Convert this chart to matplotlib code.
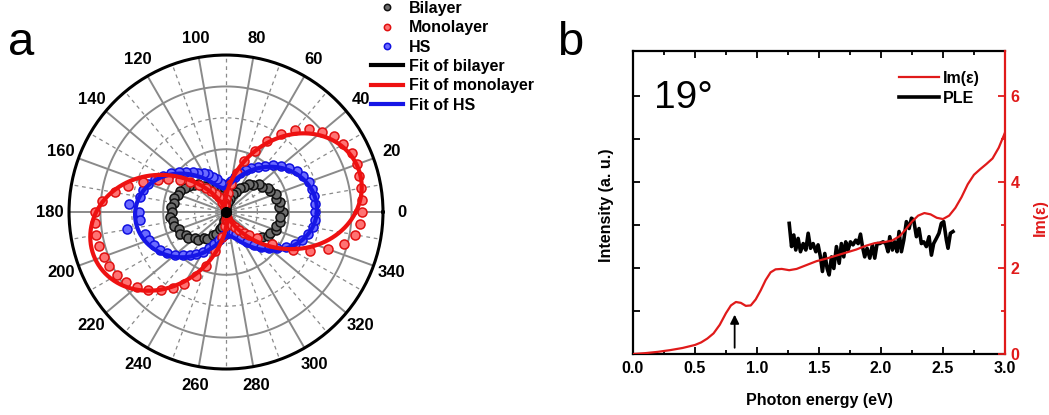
import numpy as np
import matplotlib
matplotlib.use("Agg")
import matplotlib.pyplot as plt

plt.rcParams['font.family'] = ['Liberation Sans', 'DejaVu Sans']
plt.rcParams['font.weight'] = 'bold'
plt.rcParams['axes.labelweight'] = 'bold'

# panel a: polarization-resolved intensity (5 deg steps)
angles = np.arange(0, 360, 5)
bilayer = [1.80, 1.70, 1.76, 1.66, 1.68, 1.55, 1.56, 1.40, 1.38, 1.20, 1.16, 0.98,
           0.90, 0.72, 0.62, 0.44, 0.32, 0.18, 0.10, 0.16, 0.30, 0.46, 0.58, 0.76,
           0.86, 1.02, 1.10, 1.26, 1.32, 1.45, 1.50, 1.60, 1.62, 1.72, 1.68, 1.76,
           1.72, 1.78, 1.70, 1.72, 1.60, 1.62, 1.48, 1.46, 1.30, 1.26, 1.10, 1.04,
           0.86, 0.76, 0.58, 0.48, 0.30, 0.18, 0.10, 0.14, 0.32, 0.42, 0.62, 0.70,
           0.90, 0.96, 1.14, 1.22, 1.36, 1.40, 1.55, 1.56, 1.68, 1.66, 1.76, 1.72]
monolayer = [4.33, 4.35, 4.37, 4.40, 4.44, 4.42, 4.32, 4.20, 3.98, 3.75, 3.40, 3.05,
             2.60, 2.15, 1.72, 1.30, 0.92, 0.62, 0.40, 0.28, 0.22, 0.24, 0.35, 0.52,
             0.65, 0.82, 1.00, 1.22, 1.48, 1.78, 2.12, 2.40, 2.80, 3.22, 3.60, 3.95,
             4.16, 4.18, 4.19, 4.18, 4.15, 4.10, 4.00, 3.88, 3.72, 3.50, 3.24, 2.95,
             2.65, 2.25, 1.82, 1.30, 0.80, 0.45, 0.25, 0.20, 0.22, 0.28, 0.38, 0.45,
             0.55, 0.70, 0.88, 1.05, 1.30, 1.80, 2.45, 2.95, 3.45, 3.90, 4.18, 4.28]
hs = [2.85, 2.86, 2.86, 2.84, 2.80, 2.72, 2.60, 2.45, 2.28, 2.10, 1.92, 1.76,
      1.62, 1.48, 1.32, 1.16, 1.00, 0.88, 0.82, 0.85, 0.95, 1.08, 1.20, 1.32,
      1.43, 1.53, 1.65, 1.80, 1.96, 2.14, 2.32, 2.50, 2.64, 2.73, 2.78, 3.10,
      2.78, 2.76, 3.20, 2.68, 2.60, 2.52, 2.42, 2.28, 2.12, 1.95, 1.80, 1.65,
      1.48, 1.28, 1.08, 0.92, 0.80, 0.74, 0.70, 0.66, 0.64, 0.64, 0.68, 0.78,
      0.95, 1.15, 1.38, 1.58, 1.80, 2.00, 2.22, 2.42, 2.56, 2.70, 2.80, 2.84]
angle_labels = [str(a) for a in range(0, 360, 20)]

# panel b: Im(eps) and PLE vs photon energy
eps_x = [0, 0.1, 0.2, 0.3, 0.4, 0.5, 0.55, 0.6, 0.65, 0.7, 0.75, 0.79, 0.83, 0.87,
         0.91, 0.95, 0.99, 1.03, 1.07, 1.11, 1.15, 1.2, 1.26, 1.32, 1.4, 1.48, 1.56,
         1.64, 1.72, 1.8, 1.88, 1.95, 2.02, 2.09, 2.15, 2.2, 2.25, 2.3, 2.35, 2.4,
         2.45, 2.5, 2.55, 2.6, 2.65, 2.7, 2.75, 2.8, 2.85, 2.9, 2.95, 3.0]
eps_y = [0, 0.02, 0.05, 0.09, 0.14, 0.21, 0.27, 0.36, 0.48, 0.68, 0.95, 1.13, 1.21,
         1.19, 1.12, 1.13, 1.27, 1.48, 1.72, 1.90, 1.97, 1.98, 1.95, 1.98, 2.07, 2.16,
         2.22, 2.29, 2.36, 2.43, 2.52, 2.58, 2.60, 2.64, 2.74, 2.90, 3.08, 3.22, 3.28,
         3.25, 3.17, 3.14, 3.22, 3.40, 3.65, 3.95, 4.17, 4.30, 4.42, 4.55, 4.80, 5.15]
ple_x = [1.260, 1.279, 1.297, 1.313, 1.332, 1.351, 1.373, 1.394, 1.413, 1.432, 1.453,
         1.475, 1.493, 1.512, 1.528, 1.547, 1.566, 1.582, 1.601, 1.620, 1.641, 1.663,
         1.681, 1.700, 1.716, 1.735, 1.754, 1.775, 1.797, 1.816, 1.835, 1.851, 1.869,
         1.888, 1.910, 1.931, 1.950, 1.969, 1.990, 2.017, 2.039, 2.057, 2.071, 2.092,
         2.111, 2.130, 2.146, 2.165, 2.184, 2.205, 2.227, 2.246, 2.264, 2.286, 2.307,
         2.326, 2.345, 2.366, 2.388, 2.407, 2.425, 2.447, 2.468, 2.487, 2.506, 2.528,
         2.541, 2.560, 2.581]
ple_y = [3.04, 2.50, 2.77, 2.42, 2.69, 2.38, 2.57, 2.42, 2.81, 2.46, 2.57,
         2.38, 2.54, 2.26, 1.92, 2.34, 1.99, 1.84, 2.26, 1.99, 2.50, 2.11,
         2.57, 2.26, 2.61, 2.42, 2.61, 2.54, 2.65, 2.57, 2.79, 2.50, 2.26,
         2.46, 2.23, 2.54, 2.23, 2.57, 2.57, 2.61, 2.57, 2.38, 2.73, 2.42,
         2.61, 2.38, 2.85, 2.38, 2.65, 3.08, 2.92, 3.16, 3.12, 2.73, 2.92,
         2.57, 2.61, 2.50, 2.73, 2.30, 2.57, 2.69, 2.81, 3.04, 3.08, 2.65,
         2.46, 2.81, 2.85]
arrow_x = 0.82


def polar_fit(theta_deg, r):
    # least-squares fit with the even harmonics (2θ, 4θ)
    t = np.radians(theta_deg)
    def basis(x):
        return np.column_stack([np.ones_like(x), np.cos(2 * x), np.sin(2 * x),
                                np.cos(4 * x), np.sin(4 * x)])
    c, *_ = np.linalg.lstsq(basis(t), np.asarray(r), rcond=None)
    tt = np.linspace(0, 2 * np.pi, 721)
    return tt, np.clip(basis(tt) @ c, 0, None)


fig = plt.figure(figsize=(10.49, 4.15), dpi=100)

# ---------- a ----------
ax = fig.add_axes([0.0658, 0.1108, 0.2993, 0.7566], projection='polar')
ax.set_ylim(0, 5)
ax.grid(False)
ax.set_xticks([])
ax.set_yticks([])
ax.spines['polar'].set_linewidth(2.2)

gc = '#8a8a8a'
tc = np.linspace(0, 2 * np.pi, 361)
for r in [2, 4]:
    ax.plot(tc, np.full_like(tc, r), color=gc, lw=1.4, zorder=1)
for r in [1, 3]:
    ax.plot(tc, np.full_like(tc, r), color=gc, lw=0.9, ls=(0, (3, 3)), zorder=1)
for a in range(0, 360, 20):
    ax.plot([np.radians(a)] * 2, [0, 5], color=gc, lw=1.4, zorder=1)
    ax.plot([np.radians(a + 10)] * 2, [0, 5], color=gc, lw=0.9, ls=(0, (3, 3)), zorder=1)

th = np.radians(angles)
ms = 6.5
tb, rb = polar_fit(angles, bilayer)
lb, = ax.plot(tb, rb, color='black', lw=3, zorder=2)
pb, = ax.plot(th, bilayer, 'o', ms=ms, mfc='#6e6e6e', mec='#111111', mew=1.1, ls='none', zorder=3)
ph, = ax.plot(th, hs, 'o', ms=ms, mfc='#6b6bff', mec='#1010e0', mew=1.1, ls='none', zorder=3)
pm, = ax.plot(th, monolayer, 'o', ms=ms, mfc='#ff7373', mec='#e01010', mew=1.1, ls='none', zorder=3)
tmo, rmo = polar_fit(angles, monolayer)
th_, rh = polar_fit(angles, hs)
lh, = ax.plot(th_, rh, color='#1616e6', lw=3, zorder=4)
lm, = ax.plot(tmo, rmo, color='#ee1111', lw=3, zorder=5)
ax.plot([0], [0], 'o', color='black', ms=7, zorder=6)

for a, lab in zip(range(0, 360, 20), angle_labels):
    ax.text(np.radians(a), 5.6, lab, ha='center', va='center', fontsize=12,
            fontweight='bold', clip_on=False)

leg = fig.legend([pb, pm, ph, lb, lm, lh],
                 ['Bilayer', 'Monolayer', 'HS', 'Fit of bilayer', 'Fit of monolayer', 'Fit of HS'],
                 loc='upper left', bbox_to_anchor=(371 / 1049, 1 - 1 / 415), frameon=False,
                 fontsize=11.5, handlelength=2.0, handletextpad=0.35, labelspacing=0.27,
                 borderpad=0, borderaxespad=0, markerscale=0.7)

fig.text(0.008, 1 - 55 / 415, 'a', fontsize=34, fontweight='normal')

# ---------- b ----------
bx = fig.add_axes([0.6034, 0.147, 0.3546, 0.730])
bx2 = bx.twinx()
ymax = 7.05
bx.set_xlim(0, 3)
bx.set_ylim(0, ymax)
bx2.set_ylim(0, ymax)

l_eps, = bx2.plot(eps_x, eps_y, color='#e01a1a', lw=1.6)
l_ple, = bx.plot(ple_x, ple_y, color='black', lw=2.6)
bx.annotate('', xy=(arrow_x, 0.98), xytext=(arrow_x, 0.08),
            arrowprops=dict(arrowstyle='-|>', color='black', lw=1.3, mutation_scale=13))

bx.set_xticks(np.arange(0, 3.01, 0.5))
bx.set_xticks(np.arange(0, 3.01, 0.25), minor=True)
bx.set_yticks(range(1, 7))
bx.tick_params(axis='both', which='both', direction='in', top=True, right=False, width=1.3)
bx.tick_params(which='major', length=5, labelsize=11.5, pad=5)
bx.tick_params(which='minor', length=3)
bx.tick_params(axis='y', labelleft=False)
bx.set_xticklabels(['0.0', '0.5', '1.0', '1.5', '2.0', '2.5', '3.0'])
for s in ['left', 'top', 'bottom']:
    bx.spines[s].set_linewidth(1.6)
bx.spines['right'].set_visible(False)

bx2.set_yticks([0, 2, 4, 6])
bx2.set_yticks([1, 3, 5], minor=True)
bx2.tick_params(axis='y', which='both', direction='in', colors='#e01a1a', width=1.3)
bx2.tick_params(axis='y', which='major', length=5, labelsize=11.5, pad=4)
bx2.tick_params(axis='y', which='minor', length=3)
for s in ['left', 'top', 'bottom']:
    bx2.spines[s].set_visible(False)
bx2.spines['right'].set_color('#e01a1a')
bx2.spines['right'].set_linewidth(1.6)

bx.set_xlabel('Photon energy (eV)', fontsize=11.5, fontweight='bold', va='center')
bx.xaxis.set_label_coords(0.5, -0.152)
bx.set_ylabel('Intensity (a. u.)', fontsize=11.5, fontweight='bold', va='center')
bx.yaxis.set_label_coords(-0.07, 0.49)
bx2.set_ylabel('Im(ε)', fontsize=11.5, fontweight='bold', color='#e01a1a', va='center',
               rotation=90)
bx2.yaxis.set_label_coords(1.094, 0.45)

bx.text(0.057, 0.812, '19°', transform=bx.transAxes, fontsize=28, fontweight='normal',
        va='baseline')
bx.legend([l_eps, l_ple], ['Im(ε)', 'PLE'], loc='upper left',
          bbox_to_anchor=(899 / 1049, 1 - 71 / 415), bbox_transform=fig.transFigure,
          frameon=False, fontsize=11.5, handlelength=2.5, handletextpad=0.25,
          labelspacing=0.3, borderpad=0, borderaxespad=0)

fig.text(0.531, 1 - 55 / 415, 'b', fontsize=34, fontweight='normal')

fig.savefig('out.png', dpi=100)
